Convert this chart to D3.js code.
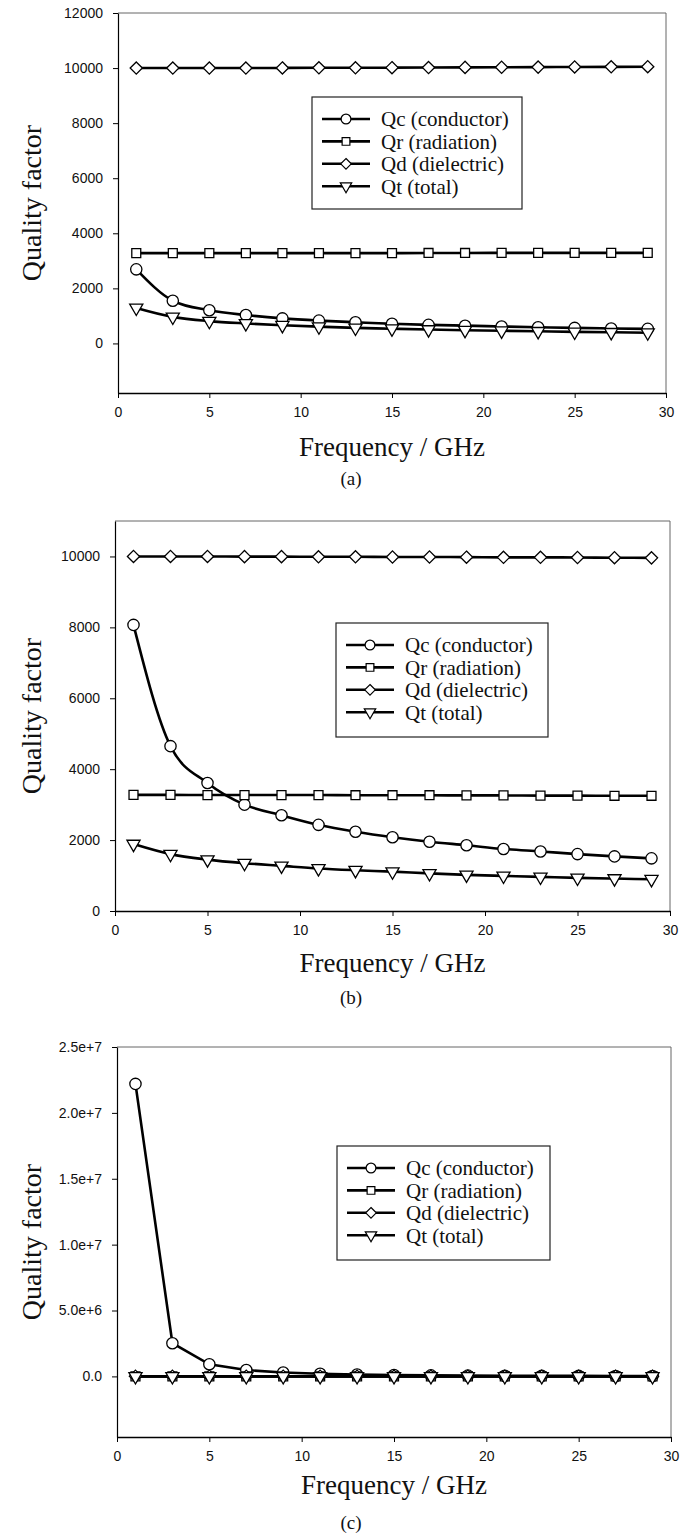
<!DOCTYPE html>
<html lang="en">
<head>
    <meta charset="utf-8">
    <script src="https://d3js.org/d3.v7.min.js"></script>
    <style>
        body { margin: 0; background: #fff; }
        .tick text { font-family: "Liberation Sans", Arial, sans-serif; font-size: 14px; fill: #111; }
        .serif { font-family: "Liberation Serif", "Times New Roman", serif; fill: #111; }
    </style>
</head>
<body>
<script>
    // frequency points (GHz)
    const freq = [1, 3, 5, 7, 9, 11, 13, 15, 17, 19, 21, 23, 25, 27, 29];

    // panel (a)
    const qcA = [2690, 1550, 1205, 1030, 910, 830, 770, 715, 675, 645, 615, 590, 565, 545, 530];
    const qrA = [3280, 3280, 3280, 3280, 3280, 3280, 3280, 3280, 3285, 3285, 3290, 3290, 3290, 3290, 3290];
    const qdA = [10000, 10000, 10000, 10000, 10005, 10010, 10010, 10015, 10020, 10025, 10030, 10035, 10040, 10045, 10050];
    const qtA = [1290, 965, 810, 725, 660, 610, 565, 535, 505, 480, 460, 440, 420, 405, 390];

    // panel (b)
    const qcB = [8070, 4650, 3610, 3000, 2700, 2430, 2235, 2080, 1955, 1855, 1750, 1680, 1605, 1540, 1485];
    const qrB = [3275, 3275, 3270, 3270, 3270, 3270, 3265, 3265, 3265, 3260, 3260, 3255, 3255, 3250, 3250];
    const qdB = [10000, 10000, 10000, 9995, 9995, 9990, 9990, 9985, 9985, 9980, 9975, 9975, 9970, 9965, 9960];
    const qtB = [1888, 1604, 1450, 1349, 1274, 1200, 1150, 1110, 1060, 1020, 990, 962, 934, 915, 895];

    // panel (c)
    const qcC = [22200000, 2520000, 920000, 480000, 290000, 200000, 140000, 100000, 80000, 60000, 50000, 42000, 36000, 30000, 26000];
    const qrC = [3280, 3280, 3280, 3280, 3280, 3280, 3280, 3280, 3280, 3280, 3280, 3280, 3280, 3280, 3280];
    const qdC = [10000, 10000, 10000, 10000, 10000, 10000, 10000, 10000, 10000, 10000, 10000, 10000, 10000, 10000, 10000];
    const qtC = [2460, 2440, 2400, 2340, 2280, 2200, 2120, 2030, 1950, 1860, 1780, 1700, 1620, 1550, 1480];

    const seriesNames = ["Qc (conductor)", "Qr (radiation)", "Qd (dielectric)", "Qt (total)"];
    const xTicks = [0, 5, 10, 15, 20, 25, 30];
    const yTicksA = [0, 2000, 4000, 6000, 8000, 10000, 12000];
    const yTicksB = [0, 2000, 4000, 6000, 8000, 10000];
    const yTicksC = [0, 5e6, 1e7, 1.5e7, 2e7, 2.5e7];
    const captions = ["(a)", "(b)", "(c)"];

    const symbols = [
        {type: d3.symbolCircle, size: 100, rot: 0},
        {type: d3.symbolSquare, size: 80, rot: 0},
        {type: d3.symbolDiamond2, size: 95, rot: 0},
        {type: d3.symbolTriangle, size: 75, rot: 180}
    ];

    const svg = d3.select("body").append("svg")
        .attr("width", 692)
        .attr("height", 1535);

    const fmtInt = d3.format("d");
    const fmtExp = function(d) { return d === 0 ? "0.0" : d3.format(".1e")(d); };

    const panels = [
        {left: 118, right: 666, top: 13, bottom: 393, yDomain: [-1800, 12000], yTicks: yTicksA, fmt: fmtInt,
         data: [qcA, qrA, qdA, qtA], legend: {x: 312, y: 97, w: 210, h: 112}, xLabelY: 447, captionY: 478, curve: d3.curveMonotoneX},
        {left: 115, right: 670, top: 521, bottom: 911, yDomain: [0, 11000], yTicks: yTicksB, fmt: fmtInt,
         data: [qcB, qrB, qdB, qtB], legend: {x: 336, y: 623, w: 212, h: 114}, xLabelY: 963, captionY: 997, curve: d3.curveMonotoneX},
        {left: 117, right: 671, top: 1047, bottom: 1437, yDomain: [-4600000, 25000000], yTicks: yTicksC, fmt: fmtExp,
         data: [qcC, qrC, qdC, qtC], legend: {x: 337, y: 1146, w: 213, h: 114}, xLabelY: 1485, captionY: 1522, curve: d3.curveLinear}
    ];

    panels.forEach(function(p, i) {
        const x = d3.scaleLinear().domain([0, 30]).range([p.left, p.right]);
        const y = d3.scaleLinear().domain(p.yDomain).range([p.bottom, p.top]);
        const g = svg.append("g");

        // top and right frame
        g.append("path")
            .attr("d", "M" + p.left + "," + p.top + "H" + p.right + "V" + p.bottom)
            .attr("fill", "none")
            .attr("stroke", "#666")
            .attr("stroke-width", 1);

        // axes
        g.append("g")
            .attr("transform", "translate(0," + p.bottom + ")")
            .call(d3.axisBottom(x).tickValues(xTicks).tickSize(5).tickPadding(9).tickSizeOuter(0))
            .call(function(a) { a.select(".domain").attr("stroke-width", 1.4); });

        g.append("g")
            .attr("transform", "translate(" + p.left + ",0)")
            .call(d3.axisLeft(y).tickValues(p.yTicks).tickFormat(p.fmt).tickSize(5).tickPadding(10).tickSizeOuter(0))
            .call(function(a) { a.select(".domain").attr("stroke-width", 1.2); });

        // lines and markers
        const line = d3.line()
            .x(function(d, j) { return x(freq[j]); })
            .y(function(d) { return y(d); })
            .curve(p.curve);

        p.data.forEach(function(vals) {
            g.append("path")
                .datum(vals)
                .attr("d", line)
                .attr("fill", "none")
                .attr("stroke", "#000")
                .attr("stroke-width", 2.6);
        });
        p.data.forEach(function(vals, k) {
            const s = symbols[k];
            g.selectAll(null)
                .data(vals)
                .enter()
                .append("path")
                .attr("d", d3.symbol().type(s.type).size(s.size))
                .attr("transform", function(d, j) {
                    return "translate(" + x(freq[j]) + "," + y(d) + ") rotate(" + s.rot + ")";
                })
                .attr("fill", "#fff")
                .attr("stroke", "#000")
                .attr("stroke-width", 1.3);
        });

        // legend
        const lg = g.append("g").attr("transform", "translate(" + p.legend.x + "," + p.legend.y + ")");
        lg.append("rect")
            .attr("width", p.legend.w)
            .attr("height", p.legend.h)
            .attr("fill", "#fff")
            .attr("stroke", "#222")
            .attr("stroke-width", 1.2);
        seriesNames.forEach(function(name, k) {
            const ry = 22 + k * 22.4;
            lg.append("line")
                .attr("x1", 10).attr("x2", 58)
                .attr("y1", ry).attr("y2", ry)
                .attr("stroke", "#000")
                .attr("stroke-width", 2.6);
            const s = symbols[k];
            lg.append("path")
                .attr("d", d3.symbol().type(s.type).size(s.size * 0.75))
                .attr("transform", "translate(34," + ry + ") rotate(" + s.rot + ")")
                .attr("fill", "#fff")
                .attr("stroke", "#000")
                .attr("stroke-width", 1.2);
            lg.append("text")
                .attr("class", "serif")
                .attr("x", 69)
                .attr("y", ry)
                .attr("dy", "0.35em")
                .style("font-size", "21px")
                .text(name);
        });

        // axis titles
        svg.append("text")
            .attr("class", "serif")
            .attr("text-anchor", "middle")
            .attr("transform", "translate(31," + ((p.top + p.bottom) / 2) + ") rotate(-90)")
            .attr("dy", "0.35em")
            .style("font-size", "28px")
            .text("Quality factor");

        svg.append("text")
            .attr("class", "serif")
            .attr("text-anchor", "middle")
            .attr("x", (p.left + p.right) / 2)
            .attr("y", p.xLabelY)
            .attr("dy", "0.35em")
            .style("font-size", "27px")
            .text("Frequency / GHz");

        svg.append("text")
            .attr("class", "serif")
            .attr("text-anchor", "middle")
            .attr("x", 351)
            .attr("y", p.captionY)
            .attr("dy", "0.35em")
            .style("font-size", "19px")
            .text(captions[i]);
    });
</script>
</body>
</html>
